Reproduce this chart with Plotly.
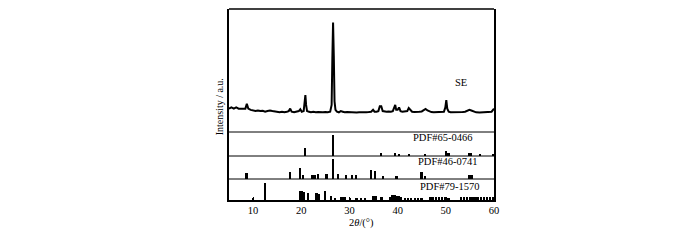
import plotly.graph_objects as go
from plotly.subplots import make_subplots

se_x = [5.0, 5.5, 6.0, 6.5, 7.0, 7.5, 8.0, 8.4, 8.7, 9.0, 9.5, 10.0, 10.5, 11.0, 11.5,
        12.0, 12.5, 13.0, 13.5, 14.0, 14.5, 15.0, 15.5, 16.0, 16.5, 17.0, 17.4, 17.7,
        18.0, 18.5, 19.0, 19.5, 19.8, 20.1, 20.5, 20.7, 20.85, 21.0, 21.2, 21.6, 22.0,
        22.5, 23.0, 23.5, 24.0, 24.5, 25.0, 25.5, 26.0, 26.3, 26.45, 26.6, 26.75, 26.9,
        27.1, 27.4, 27.8, 28.2, 28.6, 29.0, 29.5, 30.0, 30.5, 31.0, 31.5, 32.0, 32.5,
        33.0, 33.5, 34.0, 34.5, 34.9, 35.2, 35.6, 36.0, 36.3, 36.6, 36.9, 37.3, 37.7,
        38.1, 38.6, 39.0, 39.3, 39.5, 39.7, 40.0, 40.3, 40.6, 41.0, 41.5, 42.0, 42.3,
        42.6, 43.0, 43.5, 44.0, 44.5, 45.0, 45.4, 45.8, 46.2, 46.6, 47.0, 47.5, 48.0,
        48.5, 49.0, 49.6, 49.9, 50.1, 50.3, 50.6, 51.0, 51.5, 52.0, 52.5, 53.0, 53.5,
        54.0, 54.5, 54.9, 55.3, 55.8, 56.3, 57.0, 57.5, 58.0, 58.5, 59.0, 59.5, 59.8, 60.0]
se_y = [19, 20, 19, 20, 19, 19, 18.5, 19, 23, 19, 18, 17.5, 17, 17.5, 17,
        17.2, 16.5, 17, 17.5, 17, 16.5, 16.5, 16, 16.5, 16, 16.5, 17, 19,
        16.5, 16, 16.5, 17, 18.5, 16.5, 17, 24, 30, 22, 17, 16.5, 16,
        16.5, 16, 16.2, 16, 16, 16.3, 16, 16.5, 22, 60, 89, 62, 25,
        18, 16.5, 16, 17, 16.5, 16, 16.2, 16, 15.8, 16, 15.8, 16, 15.8,
        16, 16, 16.2, 16.5, 18, 16.5, 16.5, 17, 21, 21, 17, 16.5, 16.5,
        16.7, 16.5, 17, 19.5, 22, 18, 18, 20, 17, 16.5, 16.5, 17, 19.5,
        18.5, 16.5, 16.3, 16.2, 16.5, 16.7, 17.5, 18.7, 17.5, 16.5, 16.2, 16, 16.2,
        16, 16.2, 16.5, 20, 26, 19, 16.5, 16, 16, 15.8, 16, 16, 16.2,
        16.5, 17.5, 18, 17.5, 16.5, 16, 15.8, 16, 15.8, 16, 16, 16.5, 18, 19]

# PDF#65-0466 reference lines
ref1_x = [20.86, 26.64, 36.54, 39.47, 40.29, 42.45, 45.79, 50.14, 50.6, 54.87, 55.33, 57.2, 59.96]
ref1_y = [33, 88, 12, 12, 10, 10, 10, 21, 12, 12, 12, 8, 10]

# PDF#46-0741 reference lines
ref2_x = [8.7, 17.7, 19.8, 20.4, 22.3, 22.8, 23.5, 25.3, 26.6, 27.7, 29.4, 30.6, 31.4,
          34.6, 35.3, 37.0, 39.8, 45.0, 45.8, 54.9, 55.2, 55.5]
ref2_y = [26, 30, 48, 18, 18, 18, 20, 20, 87, 20, 16, 16, 16,
          40, 36, 14, 14, 32, 14, 16, 16, 16]

# PDF#79-1570 reference lines
ref3_x = [10.0, 12.5, 19.9, 20.2, 20.6, 21.5, 23.2, 23.7, 24.9, 26.3, 27.0, 28.4, 28.8,
          29.1, 30.1, 31.5, 32.5, 33.3, 34.9, 35.2, 35.5, 36.7, 38.4, 38.9, 39.4, 39.9,
          40.3, 40.8, 41.5, 42.2, 42.9, 43.6, 44.3, 45.0, 46.7, 47.3, 48.0, 48.7, 49.3,
          50.0, 50.6, 53.2, 53.8, 54.4, 55.0, 55.6, 56.2, 56.8, 57.4, 58.0, 58.6, 59.2, 59.8]
ref3_y = [6, 81, 45, 45, 40, 35, 35, 30, 45, 18, 10, 14, 12,
          14, 5, 10, 6, 8, 20, 20, 20, 16, 14, 24, 24, 20,
          20, 16, 10, 10, 10, 10, 10, 10, 14, 12, 12, 14, 12,
          12, 10, 14, 12, 14, 12, 14, 12, 14, 12, 14, 12, 14, 12]

labels = ["SE", "PDF#65-0466", "PDF#46-0741", "PDF#79-1570"]
xticks = [10, 20, 30, 40, 50, 60]

FONT = "Liberation Serif"

fig = make_subplots(rows=4, cols=1, shared_xaxes=True, vertical_spacing=0,
                    row_heights=[123, 24, 23, 21])

fig.add_trace(go.Scatter(x=se_x, y=se_y, mode="lines",
                         line=dict(color="black", width=2)), row=1, col=1)
for i, (bx, by) in enumerate([(ref1_x, ref1_y), (ref2_x, ref2_y), (ref3_x, ref3_y)]):
    fig.add_trace(go.Bar(x=bx, y=by, width=0.35, marker=dict(color="black", line_width=0)),
                  row=i + 2, col=1)

for r in range(1, 5):
    fig.update_xaxes(range=[5, 60], showline=(r == 4), linecolor="black", linewidth=1.5,
                     showgrid=False, zeroline=False,
                     ticks="inside" if r == 4 else "", ticklen=3, tickcolor="black",
                     tickvals=xticks, showticklabels=(r == 4),
                     tickfont=dict(size=10.5), row=r, col=1)
    fig.update_yaxes(range=[0, 100], showline=True, linecolor="black", linewidth=1.5,
                     mirror=True, showgrid=False, zeroline=False, showticklabels=False,
                     ticks="", row=r, col=1)

# top frame and panel separators
fig.add_shape(type="line", xref="paper", yref="paper", x0=0, x1=1, y0=1, y1=1,
              line=dict(color="black", width=1.5))
for ax in ["y2", "y3", "y4"]:
    fig.add_shape(type="line", xref="paper", yref=ax + " domain", x0=0, x1=1, y0=1, y1=1,
                  line=dict(color="black", width=1))

fig.add_annotation(text=labels[0], xref="x", yref="y", x=53.2, y=40, showarrow=False,
                   font=dict(size=10.5, family=FONT, color="black"))
for i, (xx, yy) in enumerate([(56.0, 79), (57.1, 74), (57.5, 62)]):
    ax = str(i + 2)
    fig.add_annotation(text=labels[i + 1], xref="x" + ax, yref="y" + ax, x=xx, y=yy,
                       xanchor="right", yanchor="middle", showarrow=False,
                       font=dict(size=10.5, family=FONT, color="black"))

fig.add_annotation(text="Intensity / a.u.", xref="paper", yref="paper", x=-0.038, y=0.49,
                   textangle=-90, showarrow=False, xanchor="center", yanchor="middle",
                   font=dict(size=10, family=FONT, color="black"))
fig.add_annotation(text="2<i>θ</i>/(°)", xref="paper", yref="paper", x=0.5, y=-0.118,
                   showarrow=False, xanchor="center", yanchor="middle",
                   font=dict(size=10.5, family=FONT, color="black"))

fig.update_layout(width=700, height=240, margin=dict(l=221, r=214, t=1, b=48),
                  plot_bgcolor="white", paper_bgcolor="white", showlegend=False,
                  bargap=0, font=dict(family=FONT, size=11, color="black"))

fig.write_html("out.html")
